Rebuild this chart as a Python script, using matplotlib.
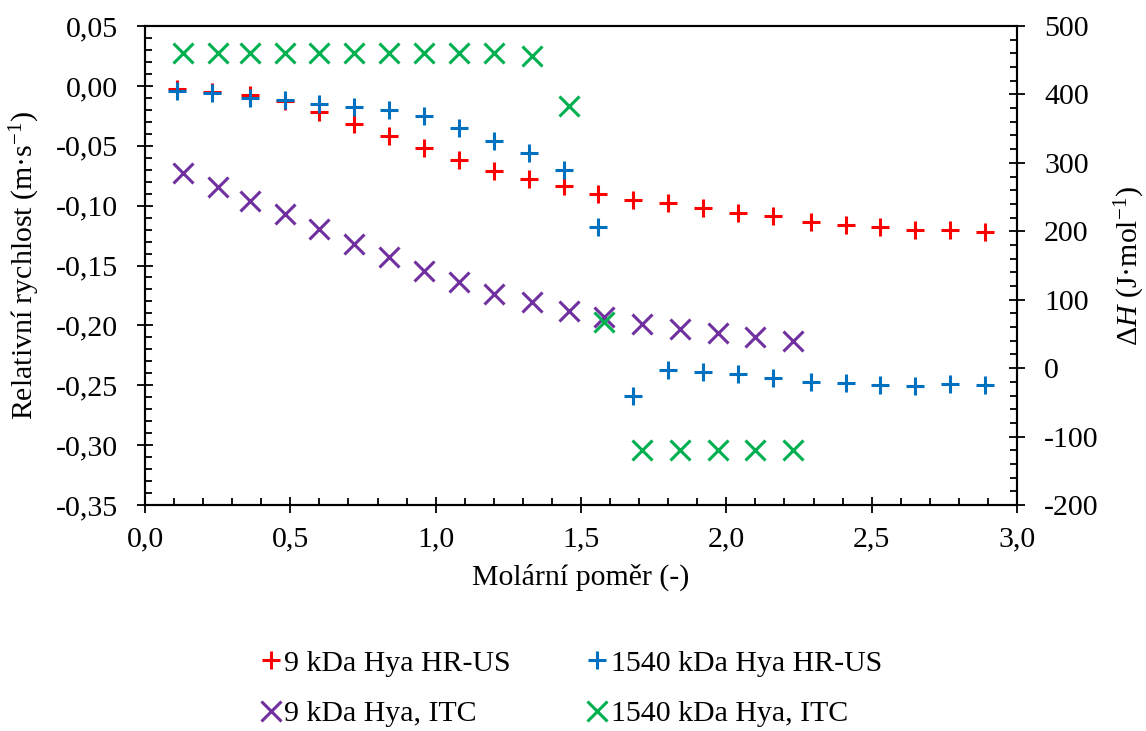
import matplotlib
matplotlib.use("Agg")
import matplotlib.pyplot as plt
from matplotlib.ticker import MultipleLocator, FuncFormatter

plt.rcParams["font.family"] = ["Liberation Serif", "DejaVu Serif"]
plt.rcParams["mathtext.fontset"] = "custom"
plt.rcParams["mathtext.rm"] = "Liberation Serif"
plt.rcParams["mathtext.it"] = "Liberation Serif:italic"
plt.rcParams["font.size"] = 21.5

# HR-US data (left axis, relative velocity)
x_hrus = [0.11, 0.23, 0.36, 0.48, 0.60, 0.72, 0.84, 0.96, 1.08, 1.20, 1.32, 1.44,
          1.56, 1.68, 1.80, 1.92, 2.04, 2.16, 2.29, 2.41, 2.53, 2.65, 2.77, 2.89]
v_9kda = [-0.003, -0.005, -0.008, -0.013, -0.022, -0.032, -0.042, -0.052, -0.062, -0.071,
          -0.078, -0.084, -0.090, -0.095, -0.098, -0.102, -0.106, -0.109, -0.114, -0.116,
          -0.118, -0.120, -0.120, -0.122]
v_1540kda = [-0.004, -0.006, -0.010, -0.012, -0.015, -0.018, -0.020, -0.025, -0.035, -0.046,
             -0.056, -0.070, -0.118, -0.259, -0.237, -0.239, -0.241, -0.244, -0.247, -0.248,
             -0.250, -0.251, -0.249, -0.250]

# ITC data (right axis, enthalpy)
x_itc = [0.13, 0.25, 0.36, 0.48, 0.60, 0.72, 0.84, 0.96, 1.08, 1.20,
         1.33, 1.46, 1.58, 1.71, 1.84, 1.97, 2.10, 2.23]
dh_9kda = [285, 265, 244, 225, 203, 181, 162, 142, 126, 109,
           96, 84, 75, 65, 57, 51, 45, 40]
dh_1540kda = [460, 460, 460, 460, 460, 460, 460, 460, 460, 460,
              456, 383, 68, -119, -119, -119, -119, -119]

labels = ["9 kDa Hya HR-US", "1540 kDa Hya HR-US", "9 kDa Hya, ITC", "1540 kDa Hya, ITC"]
colors = ["#FF0000", "#0070C0", "#7030A0", "#00B050"]


def comma(fmt):
    return FuncFormatter(lambda v, p: (fmt % (0.0 if abs(v) < 1e-9 else v)).replace(".", ","))


fig = plt.figure(figsize=(11.46, 7.31), dpi=100)
ax = fig.add_axes([145 / 1146, 1 - 505 / 731, 872 / 1146, 479 / 731])
ax2 = ax.twinx()

mk = dict(linestyle="none", markersize=13, markeredgewidth=2.2)
h1, = ax.plot(x_hrus, v_9kda, marker="+", color=colors[0], label=labels[0], **mk)
h2, = ax.plot(x_hrus, v_1540kda, marker="+", color=colors[1], label=labels[1], **mk)
h3, = ax2.plot(x_itc, dh_9kda, marker="x", color=colors[2], label=labels[2],
               linestyle="none", markersize=14, markeredgewidth=2.2)
h4, = ax2.plot(x_itc, dh_1540kda, marker="x", color=colors[3], label=labels[3],
               linestyle="none", markersize=14, markeredgewidth=2.2)

ax.set_xlim(0, 3.0)
ax.set_ylim(-0.35, 0.05)
ax2.set_ylim(-200, 500)

ax.xaxis.set_major_locator(MultipleLocator(0.5))
ax.xaxis.set_minor_locator(MultipleLocator(0.1))
ax.yaxis.set_major_locator(MultipleLocator(0.05))
ax.yaxis.set_minor_locator(MultipleLocator(0.01))
ax2.yaxis.set_major_locator(MultipleLocator(100))
ax2.yaxis.set_minor_locator(MultipleLocator(20))
ax.xaxis.set_major_formatter(comma("%.1f"))
ax.yaxis.set_major_formatter(comma("%.2f"))
ax2.yaxis.set_major_formatter(FuncFormatter(lambda v, p: "%d" % round(v)))

for a in (ax, ax2):
    for s in a.spines.values():
        s.set_linewidth(1.5)
    a.tick_params(which="major", direction="inout", length=11, width=1.3, pad=14)
    a.tick_params(which="minor", direction="in", length=5, width=1.3)
ax.tick_params(axis="x", which="major", pad=10)

ax.set_xlabel("Molární poměr (-)", labelpad=8)
ax.set_ylabel("Relativní rychlost (m·s$^{-1}$)", labelpad=10)
ax2.set_ylabel(r"$\Delta$$\mathit{H}$ (J·mol$^{-1}$)", labelpad=10)

fig.legend([h1, h3, h2, h4], [labels[0], labels[2], labels[1], labels[3]],
           loc="upper center", bbox_to_anchor=(572 / 1146, 1 - 638 / 731), ncol=2,
           frameon=False, handlelength=0.6, handletextpad=0.15, columnspacing=2.6,
           labelspacing=0.78, borderaxespad=0)

fig.savefig("out.png", dpi=100)
